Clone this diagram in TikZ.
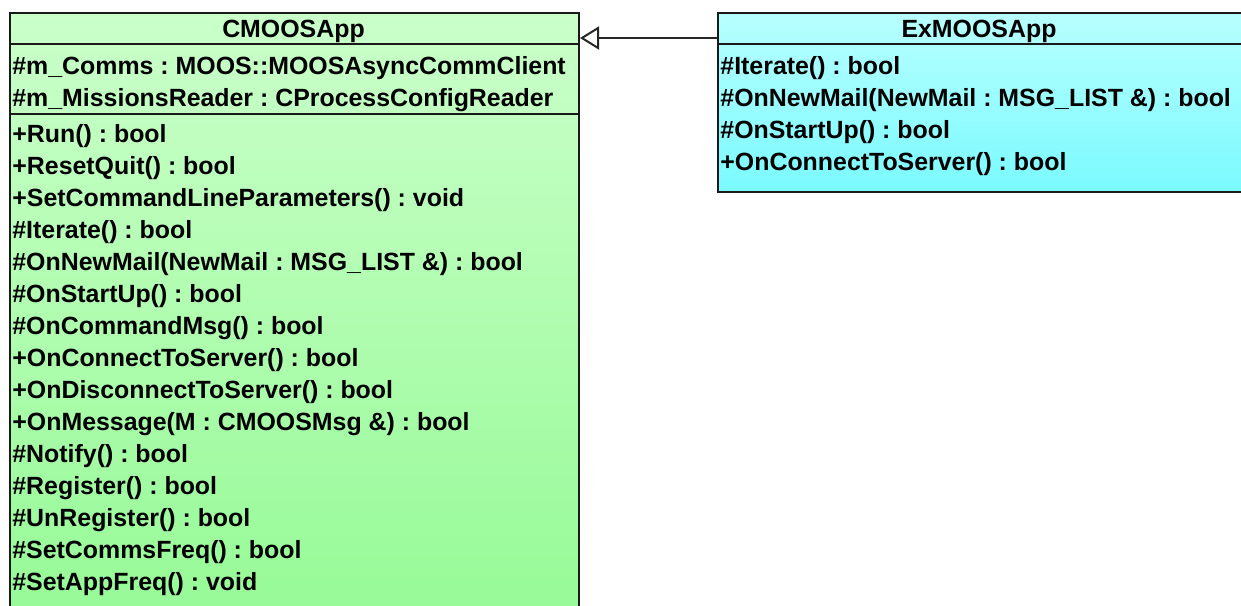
\documentclass[tikz,border=0pt]{standalone}
\usepackage{fontspec}
\setmainfont{Liberation Sans}
\usetikzlibrary{arrows.meta}
\frenchspacing

\definecolor{cmtop}{RGB}{202,255,202}
\definecolor{cmbot}{RGB}{150,250,150}
\definecolor{extop}{RGB}{184,255,255}
\definecolor{exbot}{RGB}{122,250,255}

\tikzset{
  classbox/.style={draw=black!90, line width=1pt, anchor=north west, inner sep=0pt},
  member/.style={anchor=base west, inner sep=0pt, font=\fontsize{12.45pt}{14pt}\selectfont\bfseries},
  title/.style={anchor=base, inner sep=0pt, font=\fontsize{12.45pt}{14pt}\selectfont\bfseries},
  sep/.style={black!90, line width=1pt},
}

\begin{document}
\begin{tikzpicture}[x=0.5pt, y=-0.5pt]
        \clip (0,0) rectangle (1241,605);

        % CMOOSApp base class
        \node[classbox, top color=cmtop, bottom color=cmbot, minimum width=284.5pt, minimum height=304pt] (cmoos) at (9,12) {};
        \draw[sep] (9,44) -- (578,44);
        \draw[sep] (9,114) -- (578,114);
        \node[title] (cmname) at (293.5,37) {CMOOSApp};
        \node[member] (cmattr1) at (12,74) {\#m\_Comms : MOOS::MOOSAsyncCommClient};
        \node[member] (cmattr2) at (12,106) {\#m\_MissionsReader : CProcessConfigReader};
        \foreach \txt [count=\i from 0] in {
            +Run() : bool,
            +ResetQuit() : bool,
            +SetCommandLineParameters() : void,
            \#Iterate() : bool,
            \#OnNewMail(NewMail : MSG\_LIST \&) : bool,
            \#OnStartUp() : bool,
            \#OnCommandMsg() : bool,
            +OnConnectToServer() : bool,
            +OnDisconnectToServer() : bool,
            +OnMessage(M : CMOOSMsg \&) : bool,
            \#Notify() : bool,
            \#Register() : bool,
            \#UnRegister() : bool,
            \#SetCommsFreq() : bool,
            \#SetAppFreq() : void}
          \node[member] (cmop\i) at (12,142+32*\i) {\txt};

        % ExMOOSApp derived class
        \node[classbox, top color=extop, bottom color=exbot, minimum width=266.5pt, minimum height=89.5pt] (exmoos) at (717,12) {};
        \draw[sep] (717,44) -- (1250,44);
        \node[title] (exname) at (979,37) {ExMOOSApp};
        \foreach \txt [count=\i from 0] in {
            \#Iterate() : bool,
            \#OnNewMail(NewMail : MSG\_LIST \&) : bool,
            \#OnStartUp() : bool,
            +OnConnectToServer() : bool}
          \node[member] (exop\i) at (720,74+32*\i) {\txt};

        % generalisation
        \coordinate (inh) at (650,38);
        \draw[-{Triangle[open, length=9.5pt, width=11.5pt, line width=1pt]}, line width=1pt, black!85]
          (exmoos.west |- inh) -- (cmoos.east |- inh);
\end{tikzpicture}
\end{document}
